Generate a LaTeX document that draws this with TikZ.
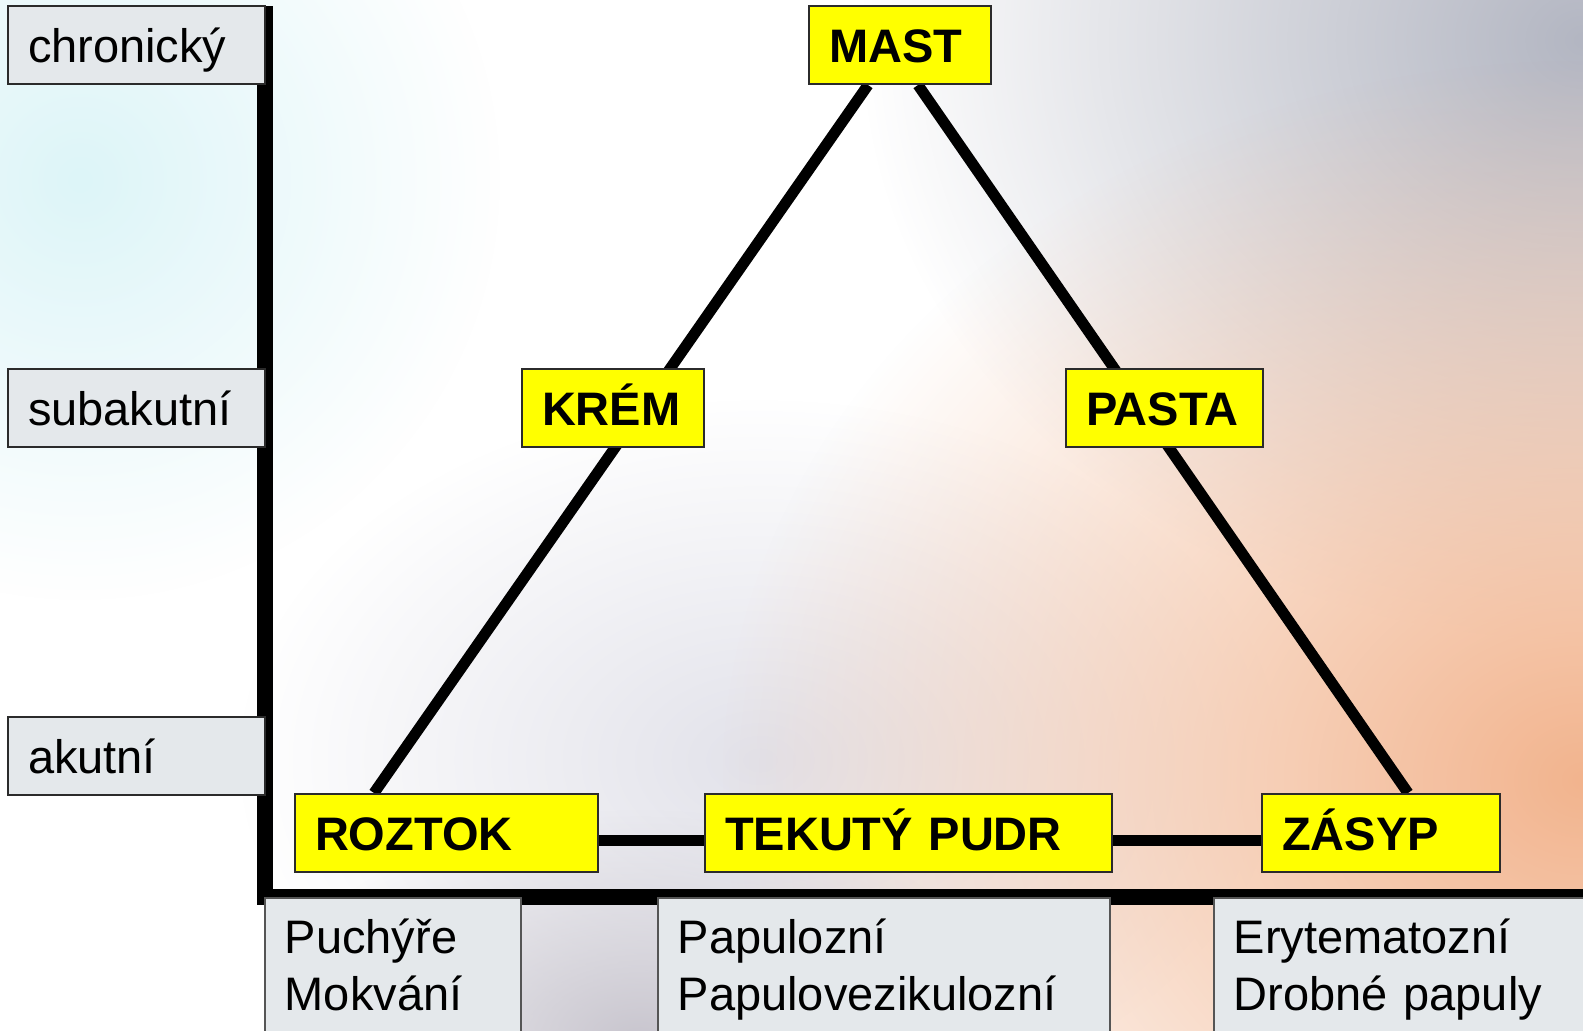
\documentclass[tikz,border=0pt]{standalone}
\usepackage{fontspec}
\setmainfont{Liberation Sans}
\usetikzlibrary{positioning,calc,backgrounds,fadings}
\definecolor{lemon}{HTML}{FFFF00}
\definecolor{mist}{HTML}{E4E8EB}
\definecolor{edge}{HTML}{2B2B2B}
\definecolor{icecyan}{HTML}{DDF5F8}
\definecolor{slategrey}{HTML}{B3B6C2}
\definecolor{peach}{HTML}{F2B48E}
\definecolor{lilac}{HTML}{C8C5CE}
\definecolor{haze}{HTML}{E2E2EA}
\tikzfading[name=glow,inner color=transparent!0,outer color=transparent!100]

\begin{document}
\begin{tikzpicture}[
  x=0.5pt,y=-0.5pt,
  font=\fontsize{23.5}{28.5}\selectfont,
  stage/.style={draw=edge,line width=1pt,fill=mist,anchor=north west,text width=108.5pt,align=left,inner xsep=10pt,minimum height=39pt,text height=17pt,text depth=0pt},
  form/.style={draw=edge,line width=1pt,fill=lemon,anchor=north west,text width=#1,align=left,inner xsep=10pt,minimum height=39pt,text height=17pt,text depth=0pt,font=\fontsize{23.5}{28.5}\selectfont\bfseries},
  skin/.style={draw=edge!80,line width=0.8pt,fill=mist,anchor=north west,text width=#1,align=left,inner xsep=10pt,inner ysep=11pt,text height=17pt,text depth=30pt},
  axis/.style={line width=8pt,black},
  tie/.style={line width=5.5pt,black}
]
\useasboundingbox (0,0) rectangle (1583,1030);
% background wash
\begin{scope}[on background layer]
  \fill[white] (0,0) rectangle (1583,1030);
  \fill[icecyan,path fading=glow] (80,180) ellipse (420 and 420);
  \fill[haze,path fading=glow] (760,760) ellipse (520 and 360);
  \fill[slategrey,path fading=glow] (1583,40) ellipse (720 and 600);
  \fill[peach,path fading=glow] (1583,780) ellipse (860 and 720);
  \fill[lilac,path fading=glow] (640,1040) ellipse (380 and 230);
\end{scope}
% axes
\coordinate (top) at (264.5,6);
\coordinate (origin) at (264.5,897);
\coordinate (xend) at (1590,897);
\draw[axis] (top) -- (origin) -- (xend);
% stages
\node[stage] (chron) at (7,5) {chronický};
\node[stage] (subak) at (7,368) {subakutní};
\node[stage] (akut) at (7,716) {akutní};
% forms
\node[form=71pt] (mast) at (808,5) {MAST};
\node[form=71pt] (krem) at (521,368) {KRÉM};
\node[form=78.5pt] (pasta) at (1065,368) {PASTA};
\node[form=131.5pt] (roztok) at (294,793) {ROZTOK};
\node[form=183.5pt,right=52.5pt of roztok] (pudr) {TEKUTÝ PUDR};
\node[form=99pt,right=74pt of pudr] (zasyp) {ZÁSYP};
% skin findings
\node[skin=108pt] (puch) at (264,897) {Puchýře\\Mokvání};
\node[skin=206pt] (papul) at (657,897) {Papulozní\\Papulovezikulozní};
\node[skin=180pt] (eryt) at (1213,897) {Erytematozní\\Drobné papuly};
% triangle
\begin{scope}[on background layer]
  \draw[tie] ($(mast.south)+(-32,0)$) -- ($(roztok.north)+(-72.5,0)$);
  \draw[tie] ($(mast.south)+(18,0)$) -- ($(zasyp.north)+(27,0)$);
  \draw[tie] ($(roztok.east)+(0,7)$) -- ($(pudr.west)+(0,7)$);
  \draw[tie] ($(pudr.east)+(0,7)$) -- ($(zasyp.west)+(0,7)$);
\end{scope}
\end{tikzpicture}
\end{document}
